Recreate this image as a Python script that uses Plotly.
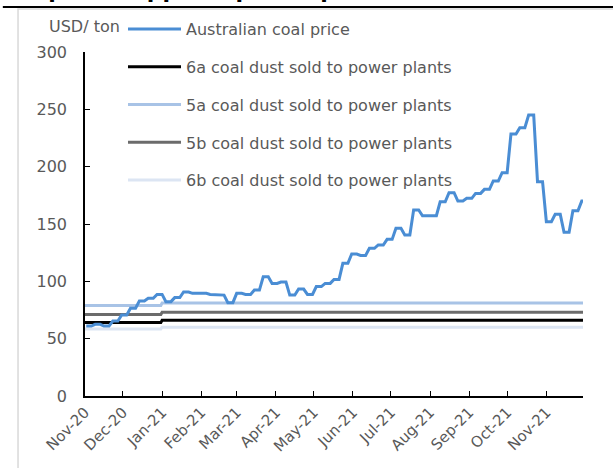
import datetime as dt
import plotly.graph_objects as go

# ---------------- data ----------------
week_start = "2020-11-02"  # first weekly observation (Monday)
coal_price_weekly = [61, 62.5, 61, 65.4, 70.6, 76.5, 82.8, 85.2, 88.6, 82.3,
                     85.8, 90.7, 89.5, 89.5, 88.6, 88, 81.4, 89.5, 88.6, 92.4,
                     104, 98.2, 99.4, 88, 93.3, 88.6, 95.4, 98.2, 101.7, 115.7,
                     123.8, 122.6, 128.8, 131.7, 136.6, 146.2, 140.4, 162.2, 157.2, 157.2,
                     169.4, 177.3, 170, 172.4, 176.7, 180.2, 187.5, 194.8, 228.5, 234,
                     245, 186.9, 152, 158.4, 142.7, 161.6, 170]

level_dates = ["2020-11-01", "2020-12-31", "2021-01-01", "2021-11-30"]
dust_6a = [64, 64, 66, 66]
dust_5a = [79, 79, 81, 81]
dust_5b = [71, 71, 73, 73]
dust_6b = [58.5, 58.5, 60, 60]

names = ["Australian coal price",
         "6a coal dust sold to power plants",
         "5a coal dust sold to power plants",
         "5b coal dust sold to power plants",
         "6b coal dust sold to power plants"]
colors = ["#4A8DD4", "#000000", "#A8C3E6", "#6B6B6B", "#DCE5F3"]

x_range = ["2020-11-01", "2021-11-30"]
y_range = [0, 300]
y_unit = "USD/ ton"
title_text = "Coal price supports power plants"

# weekly price held over the business days of each week
start = dt.date.fromisoformat(week_start)
px_dates, px_vals = [], []
for i, v in enumerate(coal_price_weekly):
    for d in range(5):
        px_dates.append(start + dt.timedelta(days=7 * i + d))
        px_vals.append(v)

FONT = "DejaVu Sans"
TXT = "#595959"

fig = go.Figure()
levels = [dust_6a, dust_5a, dust_5b, dust_6b]
for k, lv in enumerate(levels):
    fig.add_trace(go.Scatter(x=level_dates, y=lv, mode="lines", name=names[k + 1],
                             line=dict(color=colors[k + 1], width=3),
                             legendgroup=names[k + 1], legendrank=k + 2))
fig.add_trace(go.Scatter(x=px_dates, y=px_vals, mode="lines", name=names[0],
                         line=dict(color=colors[0], width=3),
                         legendgroup=names[0], legendrank=1))

fig.update_layout(
    width=613, height=468,
    margin=dict(l=85, r=30, t=52, b=72, autoexpand=False),
    paper_bgcolor="white", plot_bgcolor="white",
    font=dict(family=FONT, size=16, color=TXT),
    showlegend=True,
    legend=dict(x=0.0763, y=1.1163, xanchor="left", yanchor="top",
                bgcolor="rgba(0,0,0,0)", font=dict(size=16, color=TXT),
                tracegroupgap=14, itemwidth=53, traceorder="grouped"),
)
fig.update_xaxes(range=x_range, type="date", tick0="2020-11-01", dtick="M1",
                 tickformat="%b-%y", tickangle=-45, ticks="inside", ticklen=5,
                 tickcolor="#000", showline=True, linecolor="#000", linewidth=1.5,
                 showgrid=False, zeroline=False, tickfont=dict(size=15, color=TXT))
fig.update_yaxes(range=y_range, dtick=50, ticks="inside", ticklen=5, tickcolor="#000",
                 showline=True, linecolor="#000", linewidth=1.5, showgrid=False,
                 zeroline=False, ticklabelstandoff=13, tickfont=dict(size=16, color=TXT))

# frame of the original figure
fig.add_shape(type="rect", xref="paper", yref="paper", x0=-0.1345, y0=-0.4,
              x1=1.2, y1=1.125, line=dict(color="#D9D9D9", width=1.5), layer="below")
fig.add_shape(type="line", xref="paper", yref="paper", x0=-0.165, x1=1.07,
              y0=1.1308, y1=1.1308, line=dict(color="#000", width=2))
fig.add_annotation(text=y_unit, xref="paper", yref="paper", x=-0.0763, y=1.0727,
                   xanchor="left", yanchor="middle", showarrow=False,
                   font=dict(size=16, color=TXT, family=FONT))
fig.add_annotation(text="<b>" + title_text + "</b>", xref="paper", yref="paper",
                   x=-0.2, y=1.136, xanchor="left", yanchor="bottom", showarrow=False,
                   font=dict(size=22, color="#000", family=FONT))

fig.write_html("out.html", config={"displayModeBar": False},
               post_script="document.body.style.margin='0px';document.body.style.overflow='hidden';")
